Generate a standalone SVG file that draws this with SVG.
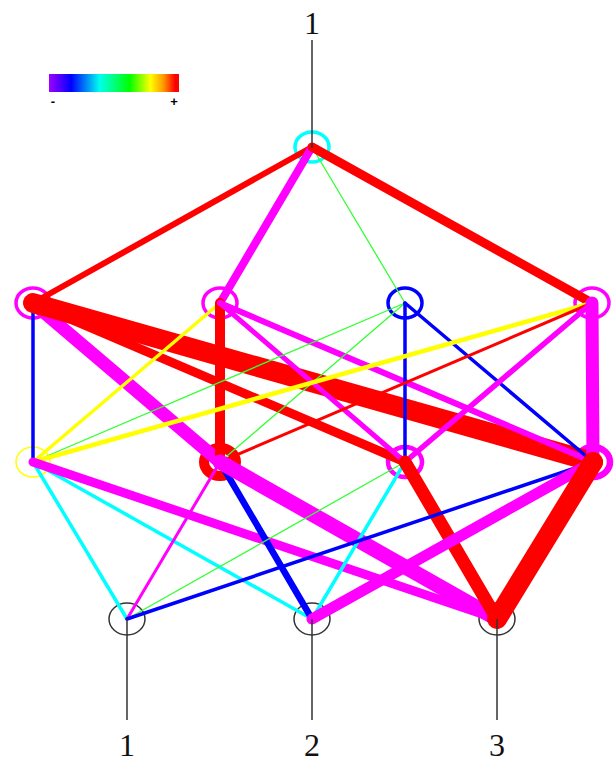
<svg xmlns="http://www.w3.org/2000/svg" width="615" height="764" viewBox="0 0 615 764">
<style>
.e{fill:none;stroke-linecap:round}
.n{fill:none}
.lbl{font-family:"Liberation Serif",serif;font-size:32px;fill:#111;text-anchor:middle}
.pin{stroke:#333;stroke-width:1.5}
.r{stroke:#ff0000}.m{stroke:#ff00ff}.b{stroke:#0000ff}.g{stroke:#33ff33}.y{stroke:#ffff00}.c{stroke:#00ffff}
</style>
<defs>
<linearGradient id="cb" x1="0" y1="0" x2="1" y2="0">
<stop offset="0" stop-color="#a000ff"/>
<stop offset="0.17" stop-color="#0000ff"/>
<stop offset="0.39" stop-color="#00ffee"/>
<stop offset="0.62" stop-color="#00ff00"/>
<stop offset="0.78" stop-color="#ffff00"/>
<stop offset="0.88" stop-color="#ff9900"/>
<stop offset="0.97" stop-color="#ff0000"/>
<stop offset="1" stop-color="#ff0000"/>
</linearGradient>
</defs>
<rect width="615" height="764" fill="#fff"/>
<g id="legend">
<rect x="49" y="74" width="130" height="18" fill="url(#cb)"/>
<text x="53" y="106" font-family="Liberation Sans,sans-serif" font-size="13" font-weight="bold" text-anchor="middle">-</text>
<text x="174" y="106" font-family="Liberation Sans,sans-serif" font-size="13" font-weight="bold" text-anchor="middle">+</text>
</g>
<g id="nodes">
<g id="t1"><ellipse class="n" cx="312" cy="147" rx="17" ry="15" stroke="#00ffff" stroke-width="3.5"/></g>
<g id="h1a"><ellipse class="n" cx="33" cy="303" rx="17" ry="15" stroke="#ff00ff" stroke-width="3.5"/></g>
<g id="h1b"><ellipse class="n" cx="220" cy="303" rx="17" ry="15" stroke="#ff00ff" stroke-width="3.5"/></g>
<g id="h1c"><ellipse class="n" cx="405" cy="303" rx="17" ry="15" stroke="#0000ff" stroke-width="3.5"/></g>
<g id="h1d"><ellipse class="n" cx="592" cy="303" rx="17" ry="15" stroke="#ff00ff" stroke-width="3.5"/></g>
<g id="h2a"><ellipse class="n" cx="33" cy="462" rx="17" ry="15" stroke="#ffff00" stroke-width="1.5"/></g>
<g id="h2b"><ellipse class="n" cx="220" cy="462" rx="16" ry="14" stroke="#ff0000" stroke-width="10"/></g>
<g id="h2c"><ellipse class="n" cx="405" cy="462" rx="17" ry="15" stroke="#ff00ff" stroke-width="4.5"/></g>
<g id="h2d"><ellipse class="n" cx="593" cy="462" rx="17" ry="15" stroke="#ff00ff" stroke-width="6.5"/></g>
<g id="o1"><ellipse class="n" cx="127" cy="619" rx="18" ry="16" stroke="#333" stroke-width="1.5"/></g>
<g id="o2"><ellipse class="n" cx="312" cy="619" rx="18" ry="16" stroke="#333" stroke-width="1.5"/></g>
<g id="o3"><ellipse class="n" cx="497" cy="619" rx="18" ry="16" stroke="#333" stroke-width="1.5"/></g>
</g>
<g id="connectors">
<line class="e r" x1="312" y1="147" x2="33" y2="303" stroke-width="6"/>
<line class="e m" x1="312" y1="147" x2="220" y2="303" stroke-width="8"/>
<line class="e g" x1="312" y1="147" x2="405" y2="303" stroke-width="1.3"/>
<line class="e r" x1="312" y1="147" x2="592" y2="303" stroke-width="9"/>

<line class="e b" x1="33" y1="303" x2="33" y2="462" stroke-width="3.5"/>
<line class="e m" x1="33" y1="303" x2="220" y2="462" stroke-width="13"/>
<line class="e r" x1="33" y1="303" x2="405" y2="462" stroke-width="9"/>
<line class="e r" x1="33" y1="303" x2="593" y2="462" stroke-width="20"/>

<line class="e y" x1="220" y1="303" x2="33" y2="462" stroke-width="3.5"/>
<line class="e r" x1="220" y1="303" x2="220" y2="462" stroke-width="10"/>
<line class="e m" x1="220" y1="303" x2="405" y2="462" stroke-width="5"/>
<line class="e m" x1="220" y1="303" x2="593" y2="462" stroke-width="6"/>

<line class="e g" x1="405" y1="303" x2="33" y2="462" stroke-width="1.3"/>
<line class="e g" x1="405" y1="303" x2="220" y2="462" stroke-width="1.3"/>
<line class="e b" x1="405" y1="303" x2="405" y2="462" stroke-width="3.5"/>
<line class="e b" x1="405" y1="303" x2="593" y2="462" stroke-width="3.5"/>

<line class="e y" x1="592" y1="303" x2="33" y2="462" stroke-width="4.5"/>
<line class="e r" x1="592" y1="303" x2="220" y2="462" stroke-width="3"/>
<line class="e m" x1="592" y1="303" x2="405" y2="462" stroke-width="5.5"/>
<line class="e m" x1="592" y1="303" x2="593" y2="462" stroke-width="13"/>

<line class="e c" x1="33" y1="462" x2="127" y2="619" stroke-width="3.5"/>
<line class="e c" x1="33" y1="462" x2="312" y2="619" stroke-width="3.5"/>
<line class="e m" x1="33" y1="462" x2="497" y2="619" stroke-width="9"/>

<line class="e m" x1="220" y1="462" x2="127" y2="619" stroke-width="3"/>
<line class="e b" x1="220" y1="462" x2="312" y2="619" stroke-width="6.5"/>
<line class="e m" x1="220" y1="462" x2="497" y2="619" stroke-width="15"/>

<line class="e g" x1="405" y1="462" x2="127" y2="619" stroke-width="1.3"/>
<line class="e c" x1="405" y1="462" x2="312" y2="619" stroke-width="3.5"/>
<line class="e r" x1="405" y1="462" x2="497" y2="619" stroke-width="13"/>

<line class="e b" x1="593" y1="462" x2="127" y2="619" stroke-width="3.5"/>
<line class="e m" x1="593" y1="462" x2="312" y2="619" stroke-width="11"/>
<line class="e r" x1="593" y1="462" x2="497" y2="619" stroke-width="20"/>

<line class="pin" x1="312" y1="40" x2="312" y2="148"/>
<line class="pin" x1="127" y1="619" x2="127" y2="720"/>
<line class="pin" x1="312" y1="619" x2="312" y2="720"/>
<line class="pin" x1="497" y1="619" x2="497" y2="720"/>
</g>
<g id="labels">
<text class="lbl" x="312" y="34">1</text>
<text class="lbl" x="127" y="756">1</text>
<text class="lbl" x="312" y="756">2</text>
<text class="lbl" x="497" y="756">3</text>
</g>
</svg>
